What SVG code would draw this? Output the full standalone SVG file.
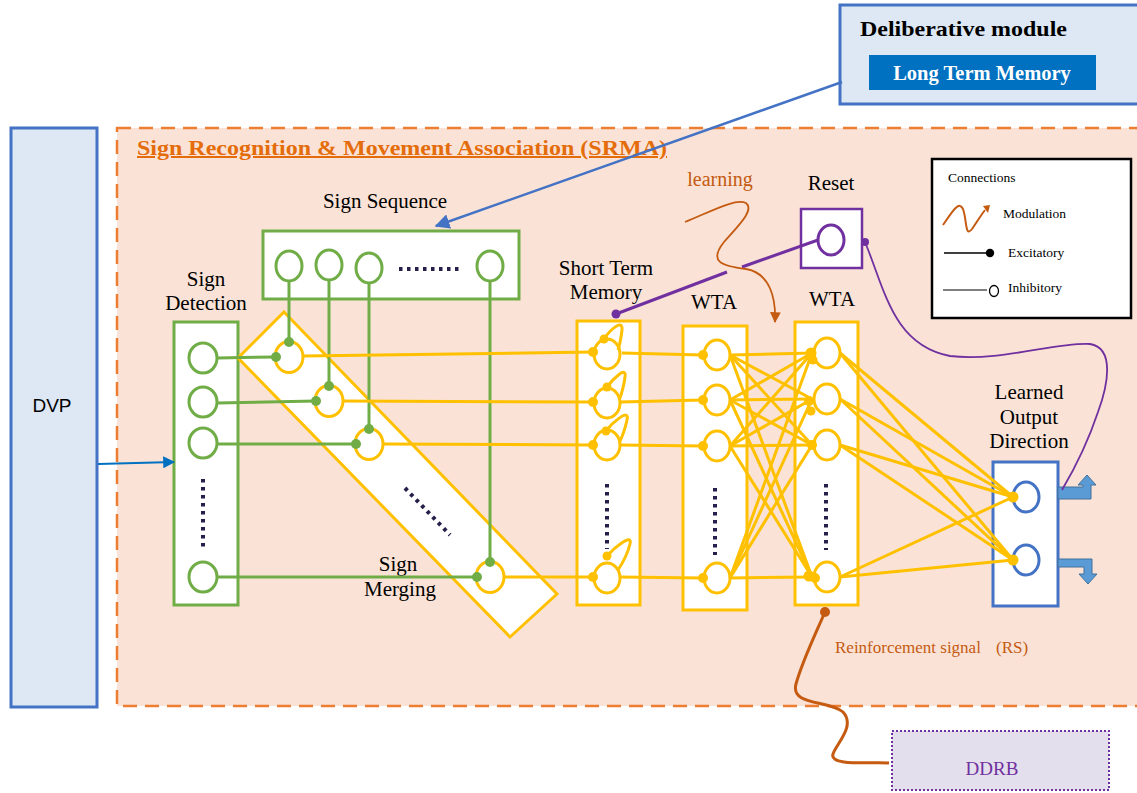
<svg xmlns="http://www.w3.org/2000/svg" width="1137" height="793" viewBox="0 0 1137 793">
<defs>
<style>
.serif{font-family:"Liberation Serif","Times New Roman",serif;fill:#000}
.lbl{font-size:21px;text-anchor:middle}
.leg{font-size:13.5px}
.g{stroke:#70ad47;stroke-width:3;fill:none}
.gn{stroke:#70ad47;stroke-width:3;fill:#fff}
.gd{fill:#70ad47}
.y{stroke:#ffc000;stroke-width:3;fill:none}
.yn{stroke:#ffc000;stroke-width:3;fill:#fff}
.yd{fill:#ffc000}
.bx{fill:#fff;stroke-width:3}
.dots{stroke:#24204a;stroke-width:4;stroke-dasharray:3.5 4.5;fill:none}
</style>
<marker id="blueArrow" viewBox="0 0 10 10" refX="9" refY="5" markerWidth="6" markerHeight="6" orient="auto" markerUnits="strokeWidth">
<path d="M0,0 L10,5 L0,10 z" fill="#4472c4"/>
</marker>
<marker id="blueArrow2" viewBox="0 0 10 10" refX="9" refY="5" markerWidth="6" markerHeight="6" orient="auto" markerUnits="strokeWidth">
<path d="M0,0 L10,5 L0,10 z" fill="#0070c0"/>
</marker>
<marker id="orangeArrow" viewBox="0 0 10 10" refX="9" refY="5" markerWidth="6" markerHeight="6" orient="auto" markerUnits="strokeWidth">
<path d="M0,0 L10,5 L0,10 z" fill="#c55a11"/>
</marker>
</defs>

<!-- SRMA background -->
<g id="srma">
<rect x="117" y="128" width="1030" height="578" fill="#fae3d6" stroke="#ed7d31" stroke-width="2.5" stroke-dasharray="14 8"/>
<text x="137" y="155" font-family="Liberation Serif, serif" font-weight="bold" font-size="20" fill="#e46c0a" text-decoration="underline" textLength="530" lengthAdjust="spacingAndGlyphs">Sign Recognition &amp; Movement Association (SRMA)</text>
</g>

<g id="dvp">
<rect x="11" y="128" width="86" height="579" fill="#dde8f4" stroke="#4472c4" stroke-width="3"/>
<text x="52" y="412" font-family="Liberation Sans, Arial, sans-serif" font-size="19" text-anchor="middle" fill="#000">DVP</text>
</g>

<g id="deliberative">
<rect x="840" y="5" width="300" height="99" fill="#dde8f4" stroke="#4472c4" stroke-width="3"/>
<text x="860" y="36" class="serif" font-weight="bold" font-size="22" textLength="207" lengthAdjust="spacingAndGlyphs">Deliberative module</text>
<rect x="869" y="55" width="227" height="35" fill="#0070c0"/>
<text x="982" y="80" font-family="Liberation Serif, serif" font-weight="bold" font-size="20.5" fill="#fff" text-anchor="middle">Long Term Memory</text>
</g>

<g id="legend">
<rect x="932" y="159" width="199" height="159" fill="#fff" stroke="#000" stroke-width="2.5"/>
<text x="948" y="182" class="serif leg">Connections</text>
<path d="M943,225 C952,212 959,200 963,209 C967,220 965,238 972,229 C977,222 981,215 985,210" stroke="#c55a11" stroke-width="2" fill="none"/>
<path d="M983,206 L990,205 L988,213 z" fill="#c55a11"/>
<text x="1003" y="218" class="serif leg">Modulation</text>
<line x1="944" y1="253" x2="988" y2="253" stroke="#000" stroke-width="1.3"/>
<circle cx="990" cy="253" r="4.2" fill="#000"/>
<text x="1008" y="257" class="serif leg">Excitatory</text>
<line x1="943" y1="290" x2="987" y2="290" stroke="#000" stroke-width="1"/>
<ellipse cx="994" cy="291" rx="4.5" ry="5.5" fill="#fff" stroke="#000" stroke-width="1.3"/>
<text x="1008" y="292" class="serif leg">Inhibitory</text>
</g>

<g id="sign-sequence">
<text x="385" y="208" class="serif lbl">Sign Sequence</text>
<rect x="263" y="231" width="256" height="68" class="bx" stroke="#70ad47"/>
<ellipse cx="289" cy="266" rx="13" ry="15" class="gn"/>
<ellipse cx="329" cy="265" rx="13" ry="15" class="gn"/>
<ellipse cx="369" cy="268" rx="13" ry="15" class="gn"/>
<ellipse cx="490" cy="266" rx="13" ry="15" class="gn"/>
<line x1="399" y1="269" x2="462" y2="269" class="dots"/>
</g>

<g id="sign-detection">
<text x="206" y="286" class="serif lbl">Sign</text>
<text x="206" y="310" class="serif lbl">Detection</text>
<rect x="174" y="322" width="64" height="283" class="bx" stroke="#70ad47"/>
<ellipse cx="203" cy="358" rx="14" ry="15" class="gn"/>
<ellipse cx="203" cy="402" rx="14" ry="15" class="gn"/>
<ellipse cx="203" cy="443" rx="14" ry="15" class="gn"/>
<ellipse cx="203" cy="577" rx="14" ry="15" class="gn"/>
<line x1="203" y1="479" x2="203" y2="547" class="dots"/>
</g>

<g id="sign-merging">
<polygon points="284,312 557,594 510,637 238,358" fill="#fff" stroke="#ffc000" stroke-width="3"/>
<line x1="405" y1="488" x2="450" y2="535" class="dots"/>
<ellipse cx="289" cy="357" rx="14" ry="15.5" class="yn"/>
<ellipse cx="329" cy="401" rx="14" ry="15.5" class="yn"/>
<ellipse cx="369" cy="444" rx="14" ry="15.5" class="yn"/>
<ellipse cx="490" cy="577" rx="14" ry="15.5" class="yn"/>
<text x="398" y="571" class="serif lbl">Sign</text>
<text x="400" y="596" class="serif lbl">Merging</text>
</g>

<g id="short-term-memory">
<text x="606" y="275" class="serif lbl">Short Term</text>
<text x="606" y="299" class="serif lbl">Memory</text>
<rect x="577" y="321" width="63" height="284" class="bx" stroke="#ffc000"/>
<ellipse cx="607" cy="354" rx="13" ry="15" class="yn"/>
<ellipse cx="607" cy="403" rx="13" ry="15" class="yn"/>
<ellipse cx="607" cy="445" rx="13" ry="15" class="yn"/>
<ellipse cx="607" cy="578" rx="13" ry="15" class="yn"/>
<path d="M604,339 C610,330 623,318 622,330 C621,338 620,344 618,350" class="y"/>
<path d="M607,387 C613,379 627,365 625,377 C624,386 622,392 620,398" class="y"/>
<path d="M606,431 C612,423 630,407 627,420 C625,429 623,435 620,441" class="y"/>
<path d="M607,556 C614,548 633,532 630,544 C627,556 622,564 618,570" class="y"/>
<circle cx="604" cy="339" r="4.5" class="yd"/>
<circle cx="607" cy="387" r="4.5" class="yd"/>
<circle cx="606" cy="431" r="4.5" class="yd"/>
<circle cx="607" cy="556" r="4.5" class="yd"/>
<line x1="607" y1="484" x2="607" y2="549" class="dots"/>
</g>

<g id="wta-1">
<text x="714" y="309" class="serif lbl">WTA</text>
<rect x="683" y="326" width="64" height="284" class="bx" stroke="#ffc000"/>
<ellipse cx="717" cy="355" rx="13" ry="15" class="yn"/>
<ellipse cx="717" cy="400" rx="13" ry="15" class="yn"/>
<ellipse cx="717" cy="446" rx="13" ry="15" class="yn"/>
<ellipse cx="717" cy="578" rx="13" ry="15" class="yn"/>
<line x1="715" y1="488" x2="715" y2="555" class="dots"/>
</g>

<g id="wta-2">
<text x="832" y="306" class="serif lbl">WTA</text>
<rect x="795" y="322" width="63" height="283" class="bx" stroke="#ffc000"/>
<ellipse cx="827" cy="353" rx="13" ry="15" class="yn"/>
<ellipse cx="827" cy="399" rx="13" ry="15" class="yn"/>
<ellipse cx="827" cy="445" rx="13" ry="15" class="yn"/>
<ellipse cx="827" cy="577" rx="13" ry="15" class="yn"/>
<line x1="826" y1="484" x2="826" y2="550" class="dots"/>
</g>

<g id="reset">
<text x="831" y="190" class="serif lbl">Reset</text>
<rect x="801" y="209" width="61" height="59" fill="#fff" stroke="#7030a0" stroke-width="2.5"/>
<ellipse cx="831" cy="240" rx="13" ry="15" fill="#fff" stroke="#7030a0" stroke-width="3"/>
</g>

<g id="learned-output">
<text x="1029" y="399" class="serif lbl">Learned</text>
<text x="1029" y="424" class="serif lbl">Output</text>
<text x="1029" y="448" class="serif lbl">Direction</text>
<rect x="993" y="462" width="65" height="144" fill="#fff" stroke="#4472c4" stroke-width="3"/>
<ellipse cx="1026" cy="497" rx="13" ry="15" fill="#fff" stroke="#4472c4" stroke-width="3"/>
<ellipse cx="1026" cy="560" rx="13" ry="15" fill="#fff" stroke="#4472c4" stroke-width="3"/>
<polygon points="1058,487 1083,487 1083,485 1078,485 1087,475 1096,485 1091,485 1091,499 1058,499" fill="#5b9bd5" stroke="#41719c" stroke-width="1"/>
<polygon points="1058,559 1092,559 1092,574 1097,574 1088,584 1079,574 1084,574 1084,567 1058,567" fill="#5b9bd5" stroke="#41719c" stroke-width="1"/>
</g>

<g id="ddrb">
<rect x="892" y="731" width="217" height="59" fill="#e4dfec" stroke="#7030a0" stroke-width="2" stroke-dasharray="2 2"/>
<text x="992" y="775" font-family="Liberation Serif, serif" font-size="19" fill="#7030a0" text-anchor="middle">DDRB</text>
</g>

<g id="connectors">
<!-- external arrows -->
<line x1="842" y1="82" x2="436" y2="226" stroke="#4472c4" stroke-width="2.5" marker-end="url(#blueArrow)"/>
<line x1="98" y1="464" x2="174" y2="462" stroke="#0070c0" stroke-width="2" marker-end="url(#blueArrow2)"/>

<!-- green excitatory: sequence to merging -->
<line x1="289" y1="281" x2="289" y2="342" class="g"/>
<line x1="329" y1="280" x2="329" y2="386" class="g"/>
<line x1="369" y1="283" x2="369" y2="429" class="g"/>
<line x1="490" y1="281" x2="490" y2="562" class="g"/>
<circle cx="289" cy="342" r="5" class="gd"/>
<circle cx="329" cy="386" r="5" class="gd"/>
<circle cx="369" cy="429" r="5" class="gd"/>
<circle cx="490" cy="562" r="5" class="gd"/>
<!-- green: detection to merging -->
<line x1="217" y1="358" x2="276" y2="357" class="g"/>
<line x1="217" y1="403" x2="316" y2="401" class="g"/>
<line x1="217" y1="444" x2="356" y2="444" class="g"/>
<line x1="217" y1="577" x2="477" y2="577" class="g"/>
<circle cx="276" cy="357" r="5" class="gd"/>
<circle cx="316" cy="401" r="5" class="gd"/>
<circle cx="356" cy="444" r="5" class="gd"/>
<circle cx="477" cy="577" r="5" class="gd"/>

<!-- yellow: merging to STM -->
<line x1="303" y1="356" x2="593" y2="352" class="y"/>
<line x1="343" y1="401" x2="593" y2="402" class="y"/>
<line x1="383" y1="444" x2="593" y2="445" class="y"/>
<line x1="504" y1="577" x2="593" y2="577" class="y"/>
<circle cx="593" cy="352" r="5" class="yd"/>
<circle cx="593" cy="402" r="5" class="yd"/>
<circle cx="593" cy="445" r="5" class="yd"/>
<circle cx="593" cy="577" r="5" class="yd"/>

<!-- yellow: STM to WTA1 -->
<line x1="622" y1="353" x2="703" y2="355" class="y"/>
<line x1="620" y1="402" x2="703" y2="400" class="y"/>
<line x1="620" y1="445" x2="703" y2="446" class="y"/>
<line x1="620" y1="577" x2="703" y2="578" class="y"/>
<circle cx="703" cy="355" r="5" class="yd"/>
<circle cx="703" cy="400" r="5" class="yd"/>
<circle cx="703" cy="446" r="5" class="yd"/>
<circle cx="703" cy="578" r="5" class="yd"/>

<!-- yellow: WTA1 to WTA2 (all to all) -->
<g class="y">
<line x1="730" y1="355" x2="812" y2="353"/><line x1="730" y1="355" x2="812" y2="399"/><line x1="730" y1="355" x2="812" y2="445"/><line x1="730" y1="355" x2="812" y2="577"/>
<line x1="730" y1="400" x2="812" y2="353"/><line x1="730" y1="400" x2="812" y2="399"/><line x1="730" y1="400" x2="812" y2="445"/><line x1="730" y1="400" x2="812" y2="577"/>
<line x1="730" y1="446" x2="812" y2="353"/><line x1="730" y1="446" x2="812" y2="399"/><line x1="730" y1="446" x2="812" y2="445"/><line x1="730" y1="446" x2="812" y2="577"/>
<line x1="730" y1="578" x2="812" y2="353"/><line x1="730" y1="578" x2="812" y2="399"/><line x1="730" y1="578" x2="812" y2="445"/><line x1="730" y1="578" x2="812" y2="577"/>
</g>
<circle cx="811" cy="353" r="5.5" class="yd"/>
<circle cx="813" cy="360" r="4.5" class="yd"/>
<circle cx="809" cy="401" r="5" class="yd"/>
<circle cx="811" cy="411" r="4.5" class="yd"/>
<circle cx="812" cy="445" r="5" class="yd"/>
<circle cx="809" cy="576" r="5.5" class="yd"/>
<circle cx="815" cy="578" r="5" class="yd"/>

<!-- yellow: WTA2 to output -->
<g class="y">
<line x1="840" y1="353" x2="1013" y2="497"/><line x1="840" y1="353" x2="1013" y2="560"/>
<line x1="840" y1="399" x2="1013" y2="497"/><line x1="840" y1="399" x2="1013" y2="560"/>
<line x1="840" y1="445" x2="1013" y2="497"/><line x1="840" y1="445" x2="1013" y2="560"/>
<line x1="840" y1="577" x2="1013" y2="497"/><line x1="840" y1="577" x2="1013" y2="560"/>
</g>
<circle cx="1013" cy="497" r="5.5" class="yd"/>
<circle cx="1013" cy="560" r="5.5" class="yd"/>

<!-- purple reset connections -->
<line x1="818" y1="240" x2="742" y2="267" stroke="#7030a0" stroke-width="3"/>
<line x1="727" y1="272" x2="616" y2="314" stroke="#7030a0" stroke-width="3"/>
<circle cx="616" cy="314" r="4.5" fill="#7030a0"/>
<path d="M865,242 C885,290 893,345 950,356 C1000,362 1055,342 1090,344 C1115,348 1108,385 1098,412 C1088,442 1075,468 1062,490" stroke="#7030a0" stroke-width="1.8" fill="none"/>
<circle cx="865" cy="242" r="4" fill="#7030a0"/>

<!-- learning modulation -->
<text x="720" y="186" font-family="Liberation Serif, serif" font-size="20" fill="#c55a11" text-anchor="middle">learning</text>
<path d="M685,222 C710,212 735,198 746,203 C755,210 738,226 724,242 C708,262 722,266 746,269 C770,273 776,298 775,322" stroke="#c55a11" stroke-width="1.8" fill="none" marker-end="url(#orangeArrow)"/>

<!-- reinforcement signal -->
<text x="835" y="653" font-family="Liberation Serif, serif" font-size="17" fill="#c55a11">Reinforcement signal</text>
<text x="996" y="653" font-family="Liberation Serif, serif" font-size="17" fill="#c55a11">(RS)</text>
<path d="M825,612 C815,635 802,662 796,684 C790,706 830,700 843,712 C856,726 836,744 833,754 C829,766 868,762 889,763" stroke="#c55a11" stroke-width="3" fill="none"/>
<circle cx="825" cy="612" r="5" fill="#c55a11"/>
</g>
</svg>
